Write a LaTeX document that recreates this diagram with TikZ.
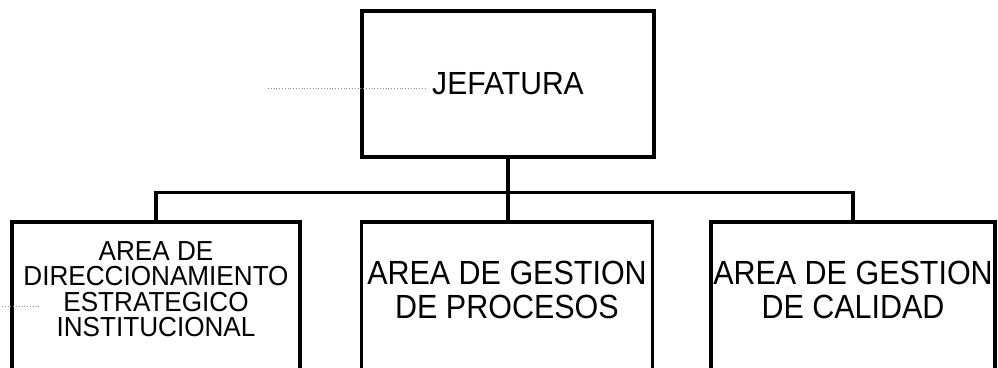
\documentclass[tikz,border=0pt]{standalone}
\usepackage{fontspec}
\setmainfont{Liberation Sans}
\newfontfamily\jefsans{Liberation Sans}[FakeStretch=0.94]
\newfontfamily\leftsans{Liberation Sans}[FakeStretch=0.95]
\newfontfamily\narrowsans{Liberation Sans}[FakeStretch=0.91]
\begin{document}
\begin{tikzpicture}[x=1pt,y=1pt,
  box/.style={draw=black, line width=3.2pt, inner sep=0pt, minimum height=155},
  topbox/.style={draw=black, line width=3.2pt, inner sep=0pt, minimum width=292, minimum height=146,
    font=\jefsans\fontsize{32}{32}\selectfont},
  txt/.style={align=center, inner sep=0pt, font=\leftsans\fontsize{27.5}{25.5}\selectfont},
  widetxt/.style={align=center, inner sep=0pt, font=\narrowsans\fontsize{33.5}{34}\selectfont},
  conn/.style={draw=black, line width=3.2pt},
  stem/.style={draw=black, line width=4pt},
  noise/.style={draw=black!45, dotted, line width=0.8pt}]
\useasboundingbox (0,0) rectangle (998,367);
\clip (0,0) rectangle (998,367);
\fill[white] (0,0) rectangle (998,367);

\node[topbox] (jef) at (508,283) {JEFATURA};

\node[box, minimum width=288] (b1) at (156,67.5) {};
\node[box, minimum width=291] (b2) at (507,67.5) {};
\node[box, minimum width=284] (b3) at (853,67.5) {};

\node[txt] (t1) at ([yshift=-69]b1.north) {AREA DE\\DIRECCIONAMIENTO\\ESTRATEGICO\\INSTITUCIONAL};
\node[widetxt] (t2) at ([yshift=-70]b2.north) {AREA DE GESTION\\DE PROCESOS};
\node[widetxt] (t3) at ([yshift=-70]b3.north) {AREA DE GESTION\\DE CALIDAD};

\draw[stem] (jef.south) -- ++(0,-34) coordinate (hub);
\draw[conn] (b1.north) |- (hub) -| (b3.north);
\draw[stem] (hub) -- (hub |- b2.north);

\coordinate (n1) at (268,279);
\coordinate (n2) at (425,279);
\draw[noise] (n1) -- (n2);
\coordinate (n3) at (2,61);
\coordinate (n4) at (40,61);
\draw[noise] (n3) -- (n4);
\end{tikzpicture}
\end{document}
